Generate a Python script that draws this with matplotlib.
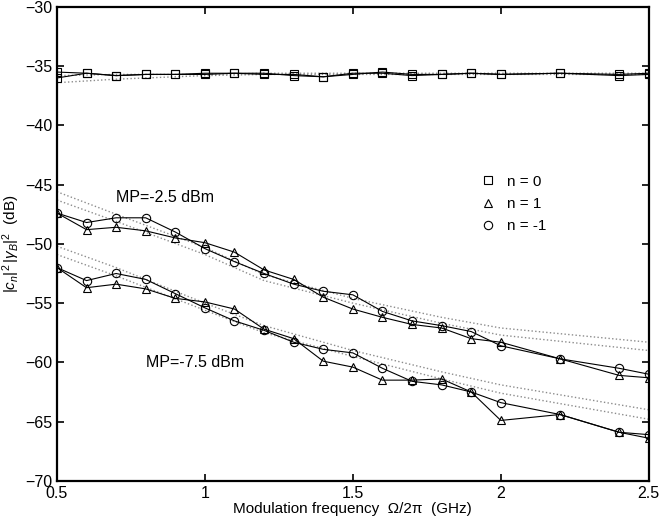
import numpy as np
import matplotlib.pyplot as plt
from matplotlib.lines import Line2D

plt.rcParams['font.family'] = ['Liberation Sans', 'DejaVu Sans']
plt.rcParams['mathtext.fontset'] = 'custom'
plt.rcParams['mathtext.rm'] = 'Liberation Sans'
plt.rcParams['mathtext.it'] = 'Liberation Sans:italic'

# measured points (GHz)
freq = [0.5, 0.6, 0.7, 0.8, 0.9, 1.0, 1.1, 1.2, 1.3, 1.4, 1.5,
        1.6, 1.7, 1.8, 1.9, 2.0, 2.2, 2.4, 2.5]

# n = 0, both powers
sq_hi = [-35.5, -35.6, -35.8, -35.7, -35.7, -35.7, -35.6, -35.6, -35.8, -35.9,
         -35.7, -35.5, -35.7, -35.7, -35.6, -35.7, -35.6, -35.8, -35.7]
sq_lo = [-36.0, -35.6, -35.8, -35.7, -35.7, -35.6, -35.6, -35.7, -35.7, -35.9,
         -35.6, -35.6, -35.8, -35.7, -35.6, -35.7, -35.6, -35.7, -35.6]

# MP = -2.5 dBm
tri_hi = [-47.4, -48.8, -48.6, -48.9, -49.5, -49.9, -50.7, -52.2, -53.0, -54.5,
          -55.5, -56.2, -56.8, -57.1, -58.0, -58.3, -59.7, -61.1, -61.3]
cir_hi = [-47.4, -48.2, -47.8, -47.8, -49.0, -50.4, -51.5, -52.5, -53.4, -54.0,
          -54.3, -55.7, -56.5, -56.9, -57.4, -58.6, -59.7, -60.5, -61.0]

# MP = -7.5 dBm
tri_lo = [-52.0, -53.7, -53.4, -53.8, -54.6, -54.9, -55.5, -57.2, -58.0, -59.9,
          -60.4, -61.5, -61.5, -61.4, -62.5, -64.9, -64.4, -65.9, -66.4]
cir_lo = [-52.0, -53.1, -52.5, -53.0, -54.2, -55.4, -56.5, -57.3, -58.3, -58.9,
          -59.2, -60.5, -61.6, -61.9, -62.5, -63.4, -64.4, -65.9, -66.1]

# theory (dotted)
th_f = [0.5, 0.7, 1.0, 1.2, 1.5, 1.8, 2.0, 2.5]
th_sq_a = [-36.4, -36.1, -35.8, -35.7, -35.7, -35.7, -35.7, -35.7]
th_sq_b = [-35.8, -35.7, -35.7, -35.6, -35.6, -35.6, -35.6, -35.6]
th_hi_a = [-45.6, -47.5, -50.3, -52.6, -54.6, -56.2, -57.1, -58.3]
th_hi_b = [-46.3, -48.1, -50.9, -53.1, -55.0, -56.7, -57.7, -59.0]
th_lo_a = [-50.2, -52.0, -55.0, -56.9, -59.0, -60.8, -61.9, -64.0]
th_lo_b = [-50.9, -52.7, -55.6, -57.5, -59.5, -61.4, -62.6, -64.8]

fig = plt.figure(figsize=(6.62, 5.29), dpi=100)
ax = fig.add_axes([0.086, 0.091, 0.894, 0.896])

for th in [th_sq_a, th_sq_b, th_hi_a, th_hi_b, th_lo_a, th_lo_b]:
    ax.plot(th_f, th, ':', color='0.55', lw=1.0)

mk = dict(color='black', lw=0.8, ms=6, mfc='none', mew=0.8)
ax.plot(freq, sq_hi, '-s', **mk)
ax.plot(freq, sq_lo, '-s', **mk)
ax.plot(freq, tri_hi, '-^', **mk)
ax.plot(freq, cir_hi, '-o', **mk)
ax.plot(freq, tri_lo, '-^', **mk)
ax.plot(freq, cir_lo, '-o', **mk)

ax.text(0.7, -46.1, 'MP=-2.5 dBm', fontsize=11.5, va='center')
ax.text(0.8, -60.0, 'MP=-7.5 dBm', fontsize=11.5, va='center')

handles = [Line2D([], [], ls='none', marker=m, color='black', mfc='none', ms=6, mew=0.8)
           for m in ['s', '^', 'o']]
ax.legend(handles, ['n = 0', 'n = 1', 'n = -1'], loc='upper left',
          bbox_to_anchor=(0.69, 0.675), frameon=False, fontsize=11,
          handletextpad=0.6, labelspacing=0.55, handlelength=1.2)

ax.set_xlim(0.5, 2.5)
ax.set_ylim(-70, -30)
ax.set_xticks([0.5, 1, 1.5, 2, 2.5])
ax.set_xticklabels(['0.5', '1', '1.5', '2', '2.5'])
ax.set_yticks(np.arange(-70, -29, 5))
ax.tick_params(direction='in', top=True, right=True, labelsize=11.5, width=1.2, length=5)
for s in ax.spines.values():
    s.set_linewidth(1.6)

ax.set_xlabel('Modulation frequency  \u03a9/2\u03c0  (GHz)', fontsize=11, labelpad=1)
ax.set_ylabel(r'$|c_n|^2\,|\gamma_B|^2$  (dB)', fontsize=11, labelpad=2)

fig.savefig('out.png', dpi=100)
